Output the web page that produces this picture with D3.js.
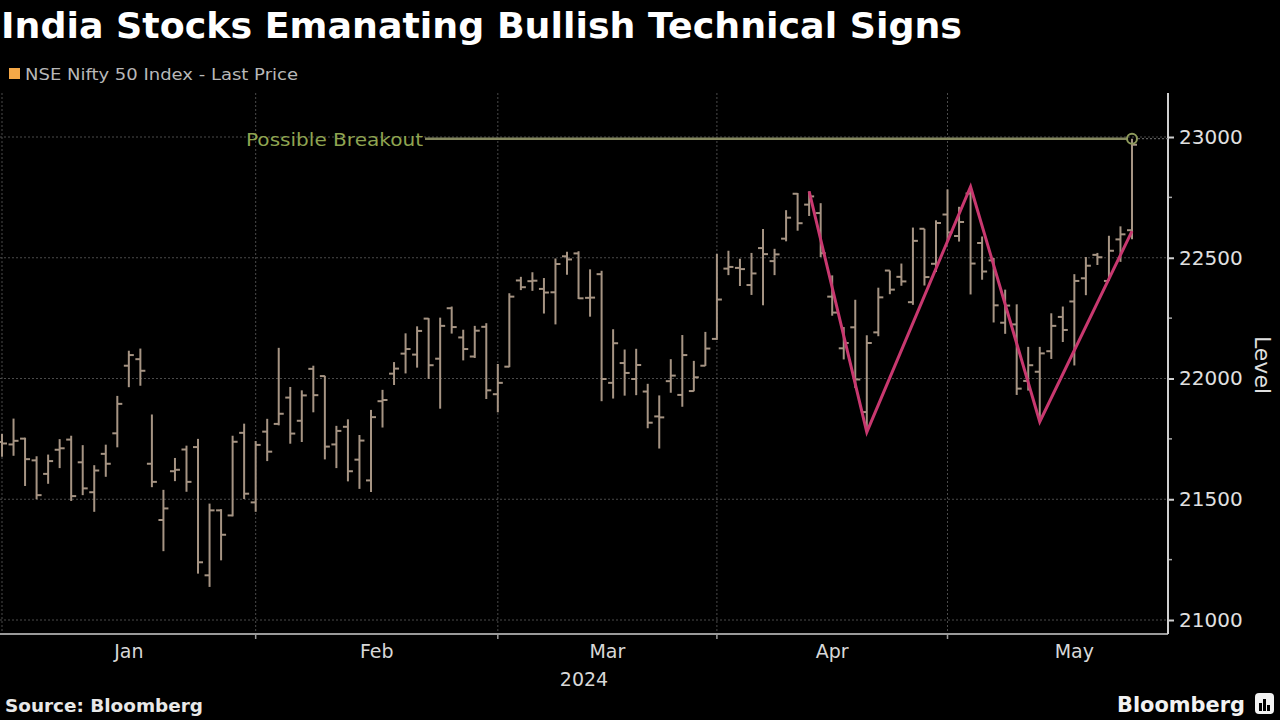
<!DOCTYPE html>
<html><head><meta charset="utf-8">
<script src="https://cdn.jsdelivr.net/npm/d3@7"></script>
<style>body{margin:0;background:#000;} svg{display:block}</style>
</head><body>
<svg id="c" width="1280" height="720"></svg>
<script>
// ---- DATA ----
const dates = ["2023-12-29",
"2024-01-01","2024-01-02","2024-01-03","2024-01-04","2024-01-05","2024-01-08","2024-01-09","2024-01-10","2024-01-11","2024-01-12","2024-01-15","2024-01-16","2024-01-17","2024-01-18","2024-01-19","2024-01-20","2024-01-23","2024-01-24","2024-01-25","2024-01-29","2024-01-30","2024-01-31",
"2024-02-01","2024-02-02","2024-02-05","2024-02-06","2024-02-07","2024-02-08","2024-02-09","2024-02-12","2024-02-13","2024-02-14","2024-02-15","2024-02-16","2024-02-19","2024-02-20","2024-02-21","2024-02-22","2024-02-23","2024-02-26","2024-02-27","2024-02-28","2024-02-29",
"2024-03-01","2024-03-02","2024-03-04","2024-03-05","2024-03-06","2024-03-07","2024-03-11","2024-03-12","2024-03-13","2024-03-14","2024-03-15","2024-03-18","2024-03-19","2024-03-20","2024-03-21","2024-03-22","2024-03-26","2024-03-27","2024-03-28",
"2024-04-01","2024-04-02","2024-04-03","2024-04-04","2024-04-05","2024-04-08","2024-04-09","2024-04-10","2024-04-12","2024-04-15","2024-04-16","2024-04-18","2024-04-19","2024-04-22","2024-04-23","2024-04-24","2024-04-25","2024-04-26","2024-04-29","2024-04-30",
"2024-05-02","2024-05-03","2024-05-06","2024-05-07","2024-05-08","2024-05-09","2024-05-10","2024-05-13","2024-05-14","2024-05-15","2024-05-16","2024-05-17","2024-05-18","2024-05-21","2024-05-22","2024-05-23"];

const openV = [21737,
21727,21751,21661,21605,21705,21747,21653,21529,21688,21773,22053,22080,21647,21414,21616,21706,21716,21185,21454,21433,21775,21487,
21780,21812,21921,21825,22040,22010,21727,21800,21664,21578,21906,22020,22103,22099,22248,22082,22291,22170,22091,22214,21935,
22049,22406,22403,22371,22357,22506,22518,22334,22432,21982,22064,21998,21946,21843,21989,21932,21948,22053,22164,
22455,22458,22387,22540,22486,22579,22765,22720,22685,22339,22125,22212,21861,22191,22447,22421,22316,22620,22475,22679,
22590,22766,22561,22489,22231,22224,21990,22028,22113,22255,22319,22415,22512,22404,22576,22614];

const highV = [21770,
21834,21755,21678,21685,21749,21763,21724,21641,21726,21928,22115,22124,21851,21539,21671,21722,21750,21482,21459,21763,21813,21741,
21833,22127,21965,21951,22053,22011,21804,21831,21766,21870,21953,22068,22187,22216,22250,22252,22298,22202,22218,22229,22060,
22353,22421,22440,22416,22497,22525,22527,22452,22446,22204,22120,22123,21978,21930,22080,22180,22073,22193,22516,
22529,22496,22520,22619,22537,22697,22768,22775,22726,22427,22213,22326,22179,22376,22447,22476,22625,22620,22655,22783,
22711,22794,22588,22499,22368,22307,22131,22131,22270,22298,22432,22503,22520,22591,22630,22993];

const lowV = [21676,
21680,21555,21500,21564,21629,21493,21517,21448,21593,21715,21964,21970,21550,21285,21575,21531,21192,21137,21247,21429,21501,21448,
21658,21806,21730,21737,21860,21665,21629,21574,21543,21530,21797,21973,22021,22045,21998,21875,22186,22075,22085,21915,21860,
22047,22366,22363,22269,22224,22430,22329,22256,21906,21917,21929,21931,21794,21710,21941,21883,21947,22052,22160,
22428,22383,22346,22303,22428,22568,22612,22673,22503,22260,22079,21961,21778,22175,22349,22384,22305,22385,22441,22568,
22567,22348,22409,22232,22185,21932,21950,21821,22081,22151,22054,22345,22470,22404,22483,22577];

const closeV = [21731,
21742,21666,21517,21658,21711,21513,21545,21619,21647,21895,22097,22032,21572,21462,21622,21572,21239,21454,21353,21738,21523,21725,
21697,21854,21772,21930,21931,21718,21783,21616,21743,21840,21911,22041,22122,22197,22055,22218,22213,22122,22198,21951,21982,
22339,22378,22405,22356,22474,22493,22332,22335,21998,22146,22023,22056,21817,21839,22012,22097,22005,22124,22327,
22462,22453,22435,22515,22514,22666,22643,22754,22519,22273,22147,21996,22147,22336,22368,22402,22570,22420,22644,22605,
22648,22476,22443,22303,22302,21958,22055,22104,22218,22201,22404,22467,22502,22529,22597,22968];

const yTicks = [21000, 21500, 22000, 22500, 23000];
const yMinorTicks = [21250, 21750, 22250, 22750];
const monthLabels = ["Jan", "Feb", "Mar", "Apr", "May"];
const monthEnds = [0, 22, 43, 62, 82, 104];   // bar index of last session of previous month
const yearLabel = "2024";

// Annotations
const zigIdx = [70, 75, 84, 90, 98];
const zigVal = [22775, 21778, 22794, 21821, 22610];
const breakoutIdx = 98;
const breakoutVal = 22993;
const breakoutText = "Possible Breakout";

// ---- CHART ----
const svg = d3.select("#c");
svg.append("rect").attr("width",1280).attr("height",720).attr("fill","#000");

const plotL = 0, plotR = 1168, plotT = 93, plotB = 634;
const x = d3.scaleLinear().domain([0, dates.length - 1]).range([2, 1132]);
const y = d3.scaleLinear().domain([21000, 23000]).range([620, 137]);

const FONT = "'DejaVu Sans', Verdana, sans-serif";

// title
svg.append("text").attr("x", 1).attr("y", 38)
  .attr("font-family", FONT).attr("font-weight", "bold").attr("font-size", 36)
  .attr("fill", "#fff").attr("textLength", 961).attr("lengthAdjust", "spacingAndGlyphs")
  .text("India Stocks Emanating Bullish Technical Signs");

// legend
svg.append("rect").attr("x", 9).attr("y", 68).attr("width", 11).attr("height", 11).attr("fill", "#f5a847");
svg.append("text").attr("x", 25).attr("y", 80)
  .attr("font-family", FONT).attr("font-size", 16).attr("fill", "#b8b8b8")
  .attr("textLength", 273).attr("lengthAdjust", "spacingAndGlyphs")
  .text("NSE Nifty 50 Index - Last Price");

// gridlines
const grid = svg.append("g").attr("stroke", "#4a4a4a").attr("stroke-width", 1).attr("stroke-dasharray", "2,2");
yTicks.forEach(v => {
  grid.append("line").attr("x1", plotL).attr("x2", plotR).attr("y1", y(v)).attr("y2", y(v));
});
monthEnds.slice(0, 5).forEach(i => {
  grid.append("line").attr("x1", x(i)).attr("x2", x(i)).attr("y1", plotT).attr("y2", plotB);
});

// bottom axis
svg.append("line").attr("x1", 0).attr("x2", plotR).attr("y1", plotB).attr("y2", plotB)
  .attr("stroke", "#9a9a9a").attr("stroke-width", 2);
monthEnds.slice(1, 5).forEach(i => {
  svg.append("line").attr("x1", x(i)).attr("x2", x(i)).attr("y1", plotB).attr("y2", plotB + 5)
    .attr("stroke", "#9a9a9a").attr("stroke-width", 1.5);
});
monthLabels.forEach((m, k) => {
  const cx = (x(monthEnds[k]) + x(monthEnds[k + 1])) / 2;
  svg.append("text").attr("x", cx).attr("y", 658).attr("text-anchor", "middle")
    .attr("font-family", FONT).attr("font-size", 19).attr("fill", "#d8d8d8").text(m);
});
svg.append("text").attr("x", 584).attr("y", 686).attr("text-anchor", "middle")
  .attr("font-family", FONT).attr("font-size", 19).attr("fill", "#d8d8d8").text(yearLabel);

// right axis
const yAxis = d3.axisRight(y).tickValues(yTicks).tickSize(6).tickPadding(5).tickFormat(d3.format("d"));
const ga = svg.append("g").attr("transform", `translate(${plotR},0)`).call(yAxis);
ga.select(".domain").remove();
ga.selectAll(".tick line").attr("stroke", "#cfcfcf").attr("stroke-width", 2);
ga.selectAll(".tick text").attr("fill", "#e0e0e0").attr("font-family", FONT).attr("font-size", 20);
yMinorTicks.forEach(v => {
  svg.append("line").attr("x1", plotR).attr("x2", plotR + 4).attr("y1", y(v)).attr("y2", y(v))
    .attr("stroke", "#aaa").attr("stroke-width", 1.5);
});
svg.append("line").attr("x1", plotR).attr("x2", plotR).attr("y1", plotT).attr("y2", plotB)
  .attr("stroke", "#cfcfcf").attr("stroke-width", 2);
svg.append("text").attr("transform", "translate(1255,365) rotate(90)").attr("text-anchor", "middle")
  .attr("font-family", FONT).attr("font-size", 22).attr("fill", "#e0e0e0").text("Level");

// OHLC bars
const barColor = "#a69483";
const bars = svg.append("g").attr("stroke", barColor).attr("stroke-width", 2);
dates.forEach((d, i) => {
  const xi = x(i);
  bars.append("line").attr("x1", xi).attr("x2", xi).attr("y1", y(highV[i])).attr("y2", y(lowV[i]));
  bars.append("line").attr("x1", xi - 5).attr("x2", xi).attr("y1", y(openV[i])).attr("y2", y(openV[i]));
  bars.append("line").attr("x1", xi).attr("x2", xi + 5).attr("y1", y(closeV[i])).attr("y2", y(closeV[i]));
});

// breakout annotation
const bx = x(breakoutIdx), by = y(breakoutVal);
svg.append("line").attr("x1", bx + 6).attr("x2", plotR).attr("y1", by).attr("y2", by)
  .attr("stroke", "#777").attr("stroke-width", 1).attr("stroke-dasharray", "2,2");
svg.append("line").attr("x1", 425).attr("x2", bx - 5).attr("y1", by).attr("y2", by)
  .attr("stroke", "#84875e").attr("stroke-width", 2.5);
svg.append("circle").attr("cx", bx).attr("cy", by).attr("r", 5)
  .attr("fill", "none").attr("stroke", "#8e9a5c").attr("stroke-width", 2);
svg.append("text").attr("x", 246).attr("y", by + 7)
  .attr("font-family", FONT).attr("font-size", 18).attr("fill", "#8fa450")
  .attr("textLength", 177).attr("lengthAdjust", "spacingAndGlyphs").text(breakoutText);

// zig-zag pattern
const zig = zigIdx.map((i, k) => [x(i), y(zigVal[k])]);
svg.append("path").attr("d", d3.line()(zig)).attr("fill", "none")
  .attr("stroke", "#c8386f").attr("stroke-width", 3).attr("stroke-linejoin", "miter");

// footer
svg.append("text").attr("x", 5).attr("y", 712)
  .attr("font-family", FONT).attr("font-weight", "bold").attr("font-size", 17).attr("fill", "#e8e8e8")
  .attr("textLength", 198).attr("lengthAdjust", "spacingAndGlyphs").text("Source: Bloomberg");
svg.append("text").attr("x", 1117).attr("y", 712)
  .attr("font-family", FONT).attr("font-weight", "bold").attr("font-size", 22).attr("fill", "#f2f2f2")
  .attr("textLength", 128).attr("lengthAdjust", "spacingAndGlyphs").text("Bloomberg");
const logo = svg.append("g").attr("transform", "translate(1255,693)");
logo.append("rect").attr("width", 19).attr("height", 21).attr("rx", 4).attr("fill", "#f2f2f2");
[[4,10,3,8],[8,6,3,12],[12,12,3,6]].forEach(b => {
  logo.append("rect").attr("x", b[0]).attr("y", b[1]).attr("width", b[2]).attr("height", b[3]).attr("fill", "#000");
});
</script>
</body></html>
